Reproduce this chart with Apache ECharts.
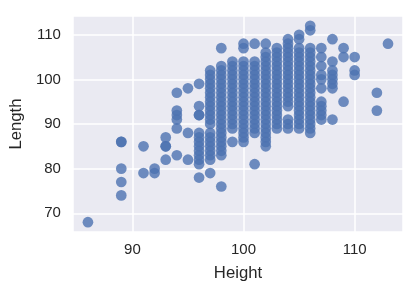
<!DOCTYPE html>
<html>
<head>
<meta charset="utf-8">
<script src="https://cdn.jsdelivr.net/npm/echarts@6/dist/echarts.min.js"></script>
<style>
  html, body { margin: 0; padding: 0; background: #ffffff; }
  #chart { width: 420px; height: 290px; }
</style>
</head>
<body>
<div id="chart"></div>
<script>
// Height values (x) that have points, and the Length values (y) observed at each height
const heightValues = [86, 89, 91, 92, 93, 94, 95, 96, 97, 98, 99, 100, 101, 102, 103, 104, 105, 106, 107, 108, 109, 110, 112, 113];
const lengthsAtHeight = [
  [68],
  [86, 86, 80, 77, 74],
  [85, 79],
  [80, 79],
  [87, 85, 85, 82],
  [97, 93, 92, 91, 89, 83],
  [98, 88, 82],
  [99, 94, 92, 92, 88, 87, 86, 85, 84, 83, 82, 81, 78],
  [102, 101, 100, 99, 98, 97, 96, 95, 94, 93, 92, 91, 90, 88, 87, 86, 85, 84, 83, 82, 79],
  [107, 103, 102, 101, 100, 99, 98, 97, 96, 95, 94, 93, 92, 91, 90, 89, 88, 87, 86, 85, 84, 83, 76],
  [104, 103, 102, 101, 100, 99, 98, 97, 96, 95, 94, 93, 92, 91, 90, 89, 86],
  [108, 107, 104, 103, 102, 101, 100, 99, 98, 97, 96, 95, 94, 93, 92, 91, 90, 89, 88, 87, 86],
  [108, 104, 103, 102, 101, 100, 99, 98, 97, 96, 95, 94, 93, 92, 91, 90, 89, 88, 81],
  [108, 106, 105, 104, 103, 102, 101, 100, 99, 98, 97, 96, 95, 94, 93, 92, 91, 90, 89, 88, 87, 86, 85],
  [107, 106, 105, 104, 103, 102, 101, 100, 99, 98, 97, 96, 95, 94, 93, 92, 91, 90, 89],
  [109, 108, 107, 106, 105, 104, 103, 102, 101, 100, 99, 98, 97, 96, 95, 94, 91, 90, 89],
  [110, 109, 107, 106, 105, 104, 103, 102, 101, 100, 99, 98, 97, 96, 95, 94, 93, 92, 91, 90, 89],
  [112, 111, 107, 106, 105, 104, 103, 102, 101, 100, 99, 98, 97, 96, 95, 94, 93, 92, 91, 90, 89, 88],
  [107, 105, 103, 101, 100, 98, 95, 94, 93, 92, 91],
  [109, 104, 102, 101, 100, 99, 98, 91],
  [107, 105, 95],
  [105, 102, 101],
  [97, 93],
  [108]
];
const xAxisName = 'Height';
const yAxisName = 'Length';

const points = [];
heightValues.forEach((h, i) => {
  lengthsAtHeight[i].forEach(l => points.push([h, l]));
});

// seaborn-style 5% margins around the data range
const xs = points.map(p => p[0]), ys = points.map(p => p[1]);
const xMin = Math.min(...xs), xMax = Math.max(...xs);
const yMin = Math.min(...ys), yMax = Math.max(...ys);
const xPad = (xMax - xMin) * 0.05, yPad = (yMax - yMin) * 0.05;

const FONT = 'Arial, "Liberation Sans", sans-serif';
const TEXT = '#262626';

const chart = echarts.init(document.getElementById('chart'), null, { renderer: 'canvas' });
chart.setOption({
  animation: false,
  backgroundColor: '#ffffff',
  grid: {
    left: 68, right: 17, top: 16, bottom: 58,
    show: true, backgroundColor: '#eaeaf2', borderWidth: 0
  },
  xAxis: {
    type: 'value',
    min: xMin - xPad, max: xMax + xPad,
    splitNumber: 3,
    name: xAxisName, nameLocation: 'middle', nameGap: 33,
    nameTextStyle: { fontFamily: FONT, fontSize: 16.7, color: TEXT },
    axisLine: { show: false }, axisTick: { show: false },
    axisLabel: { fontFamily: FONT, fontSize: 15, color: TEXT, margin: 10, showMinLabel: false, showMaxLabel: false },
    splitLine: { show: true, lineStyle: { color: '#ffffff', width: 1.5 } }
  },
  yAxis: {
    type: 'value',
    min: yMin - yPad, max: yMax + yPad,
    splitNumber: 5,
    name: yAxisName, nameLocation: 'middle', nameGap: 40,
    nameTextStyle: { fontFamily: FONT, fontSize: 16.7, color: TEXT },
    axisLine: { show: false }, axisTick: { show: false },
    axisLabel: { fontFamily: FONT, fontSize: 15, color: TEXT, margin: 12, showMinLabel: false, showMaxLabel: false },
    splitLine: { show: true, lineStyle: { color: '#ffffff', width: 1.5 } }
  },
  series: [{
    type: 'scatter',
    data: points,
    symbol: 'circle',
    symbolSize: 10.7,
    itemStyle: { color: '#4c72b0', opacity: 0.8 }
  }]
});
</script>
</body>
</html>
